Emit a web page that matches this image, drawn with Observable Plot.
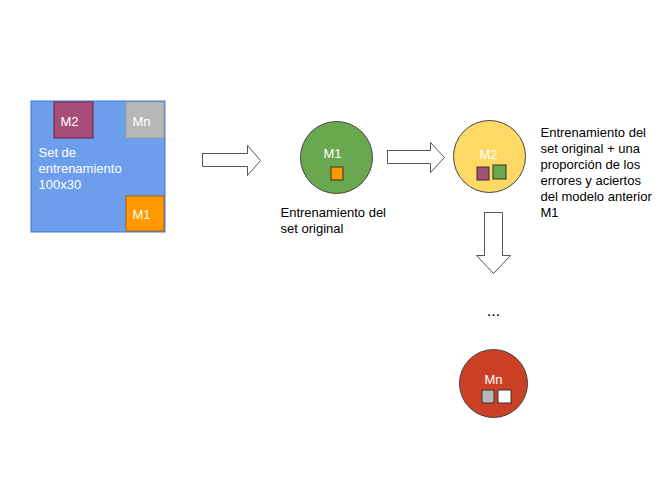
<!DOCTYPE html>
<html><head><meta charset="utf-8">
<script src="https://cdn.jsdelivr.net/npm/d3@7"></script>
<script src="https://cdn.jsdelivr.net/npm/@observablehq/plot@0.6"></script>
<style>body{margin:0;background:#fff}</style>
</head><body><div id="chart"></div>
<script>
// cajas del diagrama (coordenadas en px de la figura)
const boxes = [
  {x1: 31, x2: 165, y1: 101, y2: 232, fill: "#6d9eeb", stroke: "#3c78d8"},
  {x1: 54, x2: 93, y1: 102, y2: 138, fill: "#a64d79", stroke: "#741b47"},
  {x1: 126, x2: 164, y1: 102, y2: 138, fill: "#b7b7b7", stroke: "#999"},
  {x1: 126, x2: 164, y1: 196, y2: 231, fill: "#ff9900", stroke: "#b45f06"},
  // cuadraditos dentro de los circulos
  {x1: 331, x2: 343, y1: 167, y2: 180, fill: "#ff9900", stroke: "#333"},
  {x1: 477, x2: 489, y1: 167, y2: 180, fill: "#a64d79", stroke: "#333"},
  {x1: 493, x2: 506, y1: 165, y2: 179, fill: "#6aa84f", stroke: "#333"},
  {x1: 482, x2: 494, y1: 390, y2: 403, fill: "#b7b7b7", stroke: "#333"},
  {x1: 498, x2: 511, y1: 390, y2: 403, fill: "#ffffff", stroke: "#333"}
]
const circles = [
  {x: 336, y: 157, r: 36, fill: "#6aa84f"},
  {x: 489, y: 156, r: 36, fill: "#ffd966"},
  {x: 493, y: 383, r: 34, fill: "#cc4125"}
]
const arrows = [
  [[202,153],[247,153],[247,145],[260,160],[247,175],[247,166],[202,166],[202,153]],
  [[387,150],[430,150],[430,142],[444,157],[430,172],[430,163],[387,163],[387,150]],
  [[484,212],[502,212],[502,255],[510,255],[493,273],[476,255],[484,255],[484,212]]
].flatMap((a, i) => a.map(([x, y]) => ({x, y, id: i})))
const whiteLabels = [
  {x: 69, y: 121, text: "M2"}, {x: 141, y: 121, text: "Mn"}, {x: 141, y: 214, text: "M1"},
  {x: 332, y: 153, text: "M1"}, {x: 488, y: 154, text: "M2"}, {x: 493, y: 379, text: "Mn"}
]
const setText = ["Set de", "entrenamiento", "100x30"]
const text1 = ["Entrenamiento del", "set original"]
const text2 = ["Entrenamiento del", "set original + una", "proporción de los", "errores y aciertos", "del modelo anterior", "M1"]
const lines = (arr, x, y0) => arr.map((t, i) => ({x, y: y0 + i * 16, text: t}))

const chart = Plot.plot({
  width: 672, height: 504, margin: 0,
  x: {domain: [0, 672], axis: null},
  y: {domain: [0, 504], reverse: true, axis: null},
  style: {fontFamily: "Liberation Sans, Arial, sans-serif"},
  marks: [
    Plot.rect(boxes, {x1: "x1", x2: "x2", y1: "y1", y2: "y2", fill: "fill", stroke: "stroke", strokeWidth: 1}),
    Plot.line(arrows, {x: "x", y: "y", z: "id", fill: "white", stroke: "#555", strokeWidth: 1, curve: "linear-closed"}),
    Plot.dot(circles, {x: "x", y: "y", r: "r", fill: "fill", stroke: "#444", strokeWidth: 1}),
    Plot.rect(boxes.slice(4), {x1: "x1", x2: "x2", y1: "y1", y2: "y2", fill: "fill", stroke: "stroke"}),
    Plot.text(whiteLabels, {x: "x", y: "y", text: "text", fill: "white", fontSize: 13}),
    Plot.text(lines(setText, 38, 152), {x: "x", y: "y", text: "text", fill: "white", fontSize: 13, textAnchor: "start"}),
    Plot.text(lines(text1, 280, 212), {x: "x", y: "y", text: "text", fill: "black", fontSize: 13, textAnchor: "start"}),
    Plot.text(lines(text2, 540, 132), {x: "x", y: "y", text: "text", fill: "black", fontSize: 13, textAnchor: "start"}),
    Plot.text([{x: 493, y: 310, text: "..."}], {x: "x", y: "y", text: "text", fill: "black", fontSize: 16})
  ],
  r: {type: "identity"}
})
document.getElementById("chart").append(chart)
</script></body></html>
